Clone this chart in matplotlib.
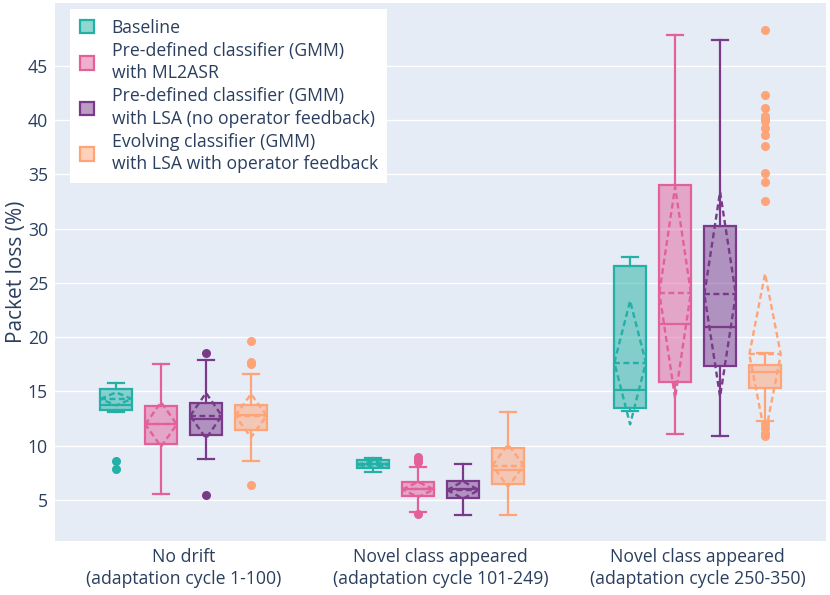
import matplotlib
matplotlib.use("Agg")
import matplotlib.pyplot as plt
import matplotlib.patches as mpatches
from matplotlib.colors import to_rgba

# ── data ────────────────────────────────────────────────────────────
GROUPS = ["No drift\n(adaptation cycle 1-100)",
          "Novel class appeared\n(adaptation cycle 101-249)",
          "Novel class appeared\n(adaptation cycle 250-350)"]
SERIES = ["Baseline",
          "Pre-defined classifier (GMM)\nwith ML2ASR",
          "Pre-defined classifier (GMM)\nwith LSA (no operator feedback)",
          "Evolving classifier (GMM)\nwith LSA with operator feedback"]
COLOURS = ["#23b0a5", "#e3609b", "#7a3a8a", "#ffa477"]

# rows = series, columns = groups
WHISLO = [[13.1, 7.6, 13.2], [5.5, 3.9, 11.05], [8.75, 3.55, 10.9], [8.6, 3.6, 12.3]]
Q1     = [[13.3, 7.9, 13.5], [10.15, 5.35, 15.9], [11.0, 5.15, 17.3], [11.4, 6.45, 15.3]]
MEDIAN = [[13.7, 8.3, 15.15], [11.95, 5.95, 21.25], [12.45, 6.0, 20.9], [12.85, 7.75, 16.8]]
Q3     = [[15.25, 8.65, 26.6], [13.65, 6.6, 34.05], [13.9, 6.7, 30.25], [13.7, 9.8, 17.4]]
WHISHI = [[15.8, 8.85, 27.35], [17.5, 8.0, 47.85], [17.85, 8.3, 47.4], [16.6, 13.05, 18.5]]
MEAN   = [[14.3, 8.25, 17.65], [11.95, 5.95, 24.1], [12.75, 5.9, 23.95], [12.75, 8.15, 18.4]]
SD     = [[0.6, 0.3, 5.7], [2.05, 0.7, 9.75], [2.1, 0.8, 9.45], [2.0, 1.95, 7.45]]
FLIERS = [
    [[8.6, 7.8], [], []],
    [[], [8.9, 8.7, 8.5, 3.7], []],
    [[18.5, 5.45], [], []],
    [[19.6, 17.7, 17.5, 6.35], [],
     [48.3, 42.3, 41.1, 40.35, 40.15, 39.9, 39.25, 38.6, 37.6, 35.15, 34.3, 32.55,
      12.0, 11.6, 11.2, 10.9]],
]

# ── style ──────────────────────────────────────────────────────────
BG = "#e5ecf6"
TEXT = "#2a3f5f"
OFFSETS = [-0.2625, -0.0875, 0.0875, 0.2625]
BOX_W = 0.1225
FS = 12.7

plt.rcParams["font.family"] = ["Open Sans", "DejaVu Sans"]

fig = plt.figure(figsize=(8.3, 5.95), dpi=100)
ax = fig.add_axes([0.0663, 0.0908, 0.929, 0.904])
ax.set_facecolor(BG)

for s, colour in enumerate(COLOURS):
    stats, pos = [], []
    for g in range(len(GROUPS)):
        stats.append(dict(whislo=WHISLO[s][g], q1=Q1[s][g], med=MEDIAN[s][g],
                          q3=Q3[s][g], whishi=WHISHI[s][g], fliers=FLIERS[s][g]))
        pos.append(g + OFFSETS[s])
    ax.bxp(stats, positions=pos, widths=BOX_W, capwidths=BOX_W * 0.5,
           patch_artist=True, manage_ticks=False, zorder=3,
           boxprops=dict(facecolor=to_rgba(colour, 0.5), edgecolor=colour, linewidth=1.6),
           medianprops=dict(color=colour, linewidth=1.6),
           whiskerprops=dict(color=colour, linewidth=1.6),
           capprops=dict(color=colour, linewidth=1.6),
           flierprops=dict(marker="o", markerfacecolor=colour, markeredgecolor="none",
                           markersize=6.5))
    # mean line + sd diamond (dashed)
    for g in range(len(GROUPS)):
        x0 = g + OFFSETS[s]
        m, sd = MEAN[s][g], SD[s][g]
        h = BOX_W / 2
        ax.plot([x0 - h, x0 + h], [m, m], color=colour, lw=1.7,
                ls=(0, (2.5, 1.5)), zorder=4)
        ax.plot([x0 - h, x0, x0 + h, x0, x0 - h], [m, m + sd, m, m - sd, m],
                color=colour, lw=1.7, ls=(0, (2.5, 1.5)), zorder=4)

ax.set_xlim(-0.5, 2.5)
ax.set_ylim(1.2, 50.8)
ax.set_yticks(range(5, 50, 5))
ax.set_xticks(range(len(GROUPS)))
ax.set_xticklabels(GROUPS, linespacing=1.3)
ax.grid(axis="y", color="white", linewidth=1, zorder=0)
ax.set_axisbelow(True)
for sp in ax.spines.values():
    sp.set_visible(False)
ax.tick_params(length=0, labelsize=FS, labelcolor=TEXT, pad=5)
ax.set_ylabel("Packet loss (%)", fontsize=15, color=TEXT)
ax.yaxis.set_label_coords(-0.036, 0.5)

handles = [mpatches.Patch(facecolor=to_rgba(c, 0.5), edgecolor=c, linewidth=1.6, label=l)
           for c, l in zip(COLOURS, SERIES)]
leg = ax.legend(handles=handles, loc="upper left", bbox_to_anchor=(0.0195, 0.989),
                borderaxespad=0, fontsize=FS, frameon=True, fancybox=False,
                facecolor="white", edgecolor="none", framealpha=1,
                handlelength=0.8, handleheight=0.8, handletextpad=1.0,
                labelspacing=0.3, borderpad=0.55, labelcolor=TEXT)
for t in leg.get_texts():
    t.set_linespacing(1.3)
leg.set_zorder(10)

fig.savefig("out.png", dpi=100, facecolor="white")
